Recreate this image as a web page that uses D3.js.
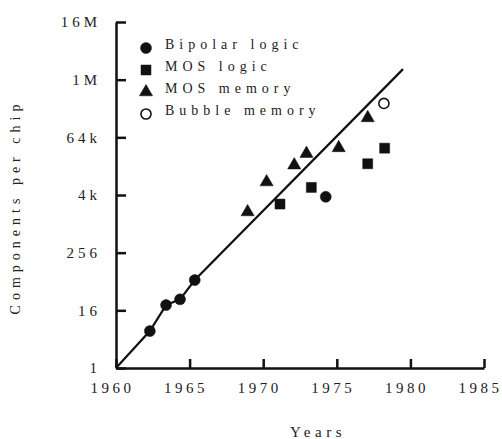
<!DOCTYPE html>
<html>
<head>
<meta charset="utf-8">
<script src="https://cdn.jsdelivr.net/npm/d3@7"></script>
<style>
  html, body { margin: 0; padding: 0; background: #fff; }
  svg { display: block; }
  text { font-family: "Liberation Serif", "Times New Roman", serif; fill: #222; }
</style>
</head>
<body>
<svg id="chart" width="502" height="439"></svg>
<script>
// Components per chip by year of introduction
const bipolarYears  = [1962.3, 1963.4, 1964.35, 1965.35, 1974.25];
const bipolarCounts = [5.9, 20.6, 27.1, 68.6, 3760];

const mosLogicYears  = [1971.14, 1973.27, 1977.1, 1978.25];
const mosLogicCounts = [2650, 5900, 18400, 38900];

const mosMemoryYears  = [1968.94, 1970.23, 1972.11, 1972.94, 1975.13, 1977.1];
const mosMemoryCounts = [1810, 7640, 17200, 29950, 39500, 166900];

const bubbleYears  = [1978.2];
const bubbleCounts = [334000];

// Trend line: follows the early bipolar parts, then a straight run
const trendYears  = [1960, 1962.3, 1963.4, 1964.35, 1965.35, 1979.5];
const trendCounts = [1, 5.9, 20.6, 27.1, 68.6, 1740000];

// Axis ticks
const xTicks = [1960, 1965, 1970, 1975, 1980, 1985];
const yTicks = [1, 16, 256, 4096, 65536, 1048576, 16777216];
const yTickLabels = ["1", "16", "256", "4k", "64k", "1M", "16M"];

const legendLabels = ["Bipolar logic", "MOS logic", "MOS memory", "Bubble memory"];

const svg = d3.select("#chart");

const x = d3.scaleLinear().domain([1960, 1985]).range([116, 484]);
const y = d3.scaleLog().base(16).domain([1, 16777216]).range([368, 22]);

// X axis with inward ticks
const xAxis = d3.axisBottom(x)
  .tickValues(xTicks)
  .tickFormat(d3.format("d"))
  .tickSizeInner(-9)
  .tickSizeOuter(0)
  .tickPadding(14);

const gx = svg.append("g")
  .attr("transform", `translate(0,${y(1)})`)
  .call(xAxis);

// Y axis with inward ticks
const yAxis = d3.axisLeft(y)
  .tickValues(yTicks)
  .tickFormat((d, i) => yTickLabels[i])
  .tickSizeInner(-10)
  .tickSizeOuter(0)
  .tickPadding(15);

const gy = svg.append("g")
  .attr("transform", `translate(${x(1960)},0)`)
  .call(yAxis);

[gx, gy].forEach(g => {
  g.select(".domain").attr("stroke", "#111").attr("stroke-width", 2.5);
  g.selectAll(".tick line").attr("stroke", "#111").attr("stroke-width", 2.5);
  g.selectAll(".tick text")
    .attr("font-family", "Liberation Serif, serif")
    .attr("font-size", 15)
    .attr("fill", "#222");
});
gy.selectAll(".tick text").attr("letter-spacing", "4px");
gx.selectAll(".tick text")
  .attr("letter-spacing", "3.5px")
  .attr("dx", -4);

// Axis titles
svg.append("text")
  .attr("x", 318)
  .attr("y", 437)
  .attr("text-anchor", "middle")
  .attr("font-size", 15)
  .attr("letter-spacing", "4.5px")
  .text("Years");

svg.append("text")
  .attr("transform", "translate(20,207) rotate(-90)")
  .attr("text-anchor", "middle")
  .attr("font-size", 14)
  .attr("letter-spacing", "5px")
  .text("Components per chip");

// Trend line
const line = d3.line()
  .x(d => x(d[0]))
  .y(d => y(d[1]));

svg.append("path")
  .datum(trendYears.map((yr, i) => [yr, trendCounts[i]]))
  .attr("d", line)
  .attr("fill", "none")
  .attr("stroke", "#111")
  .attr("stroke-width", 2.2);

// Marker styles
const series = [
  { years: bipolarYears,   counts: bipolarCounts,   type: d3.symbolCircle,   size: 95,  filled: true },
  { years: mosLogicYears,  counts: mosLogicCounts,  type: d3.symbolSquare,   size: 100, filled: true },
  { years: mosMemoryYears, counts: mosMemoryCounts, type: d3.symbolTriangle, size: 75,  filled: true },
  { years: bubbleYears,    counts: bubbleCounts,    type: d3.symbolCircle,   size: 80,  filled: false }
];

function styleMarker(sel, s) {
  sel.attr("d", d3.symbol().type(s.type).size(s.size)())
    .attr("fill", s.filled ? "#111" : "#fff")
    .attr("stroke", "#111")
    .attr("stroke-width", s.filled ? 0.5 : 1.6);
}

series.forEach(s => {
  svg.append("g")
    .selectAll("path")
    .data(s.years.map((yr, i) => [yr, s.counts[i]]))
    .join("path")
    .attr("transform", d => `translate(${x(d[0])},${y(d[1])})`)
    .call(styleMarker, s);
});

// Legend
const legend = svg.append("g").attr("transform", "translate(146,48)");
series.forEach((s, i) => {
  const row = legend.append("g").attr("transform", `translate(0,${i * 22})`);
  row.append("path").call(styleMarker, s);
  row.append("text")
    .attr("x", 19)
    .attr("y", 1)
    .attr("font-size", 14)
    .attr("letter-spacing", "5px")
    .text(legendLabels[i]);
});
</script>
</body>
</html>
